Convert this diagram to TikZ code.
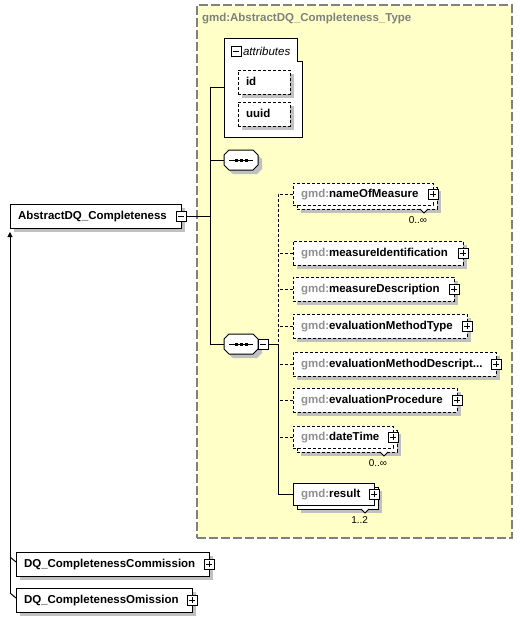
\documentclass[tikz,border=0pt]{standalone}
\usepackage{fontspec}
\setmainfont{Liberation Sans}
\usetikzlibrary{arrows.meta,shadows}
\definecolor{typeyellow}{HTML}{FFFFC8}
\definecolor{typeborder}{HTML}{808080}
\definecolor{shadowgray}{HTML}{C0C0C0}
\definecolor{gmdgray}{HTML}{909090}
\newcommand{\elemfont}{\fontsize{11.5}{13}\selectfont\bfseries}
\newcommand{\attrfont}{\normalfont\fontsize{11.5}{13}\selectfont\itshape}
\newcommand{\occfont}{\normalfont\fontsize{10}{12}\selectfont}
\newcommand{\gmdname}[1]{\mbox{\textcolor{gmdgray}{gmd:}#1}}
\begin{document}
\begin{tikzpicture}[x=1pt,y=-1pt,inner sep=0pt,outer sep=0pt,line width=1pt,font=\elemfont,
typebox/.style={draw=typeborder,fill=typeyellow,line width=1.5pt,dash pattern=on 9pt off 3pt,anchor=north west,minimum width=315pt,minimum height=533pt},
attrbox/.style={rectangle,anchor=north west,minimum width=78pt,minimum height=99pt},
basebox/.style={draw,rectangle,fill=white,anchor=north west,inner xsep=8pt,text width=#1,align=left,minimum height=24pt,text height=8.5pt,text depth=2pt},
elembox/.style={basebox=#1,general shadow={fill=shadowgray,shadow xshift=4pt,shadow yshift=-4pt}},
optbox/.style={elembox=#1,dash pattern=on 3pt off 2pt},
multibox/.style={basebox=#1,minimum height=22pt,general shadow={fill=shadowgray,shadow xshift=8pt,shadow yshift=-8pt},general shadow={draw,fill=white,shadow xshift=4pt,shadow yshift=-4pt}},
optmulti/.style={basebox=#1,minimum height=22pt,dash pattern=on 3pt off 2pt,general shadow={fill=shadowgray,shadow xshift=8pt,shadow yshift=-8pt},general shadow={draw,dash pattern=on 3pt off 2pt,fill=white,shadow xshift=4pt,shadow yshift=-4pt}},
togglebox/.style={draw,rectangle,fill=white,minimum size=10pt,general shadow={fill=black,shadow xshift=1pt,shadow yshift=-1pt}},
plussign/.style={togglebox,path picture={\draw ([xshift=2pt]path picture bounding box.west) -- ([xshift=-2pt]path picture bounding box.east) ([yshift=2pt]path picture bounding box.south) -- ([yshift=-2pt]path picture bounding box.north);}},
minussign/.style={togglebox,path picture={\draw ([xshift=2pt]path picture bounding box.west) -- ([xshift=-2pt]path picture bounding box.east);}},
seqbox/.style={rectangle,minimum width=34pt,minimum height=20pt,anchor=north west},
octagon/.style={draw,fill=white,general shadow={fill=shadowgray,shadow xshift=4pt,shadow yshift=-4pt}},
optline/.style={dash pattern=on 3pt off 2pt}]
\useasboundingbox (0,0) rectangle (523,622);
\draw (197,5) node[typebox] (type) {};
\draw (202,19) node[anchor=west,text=typeborder] (typetitle) {gmd:AbstractDQ\_Completeness\_Type};
\draw (224,38) node[attrbox] (attr) {};
\draw[fill=white] (attr.north west) -- ([xshift=-5pt]attr.north east) -- ([xshift=-5pt,yshift=-23pt]attr.north east) -- ([yshift=-23pt]attr.north east) -- (attr.south east) -- (attr.south west) -- cycle;
\draw (231,46) node[minussign,anchor=north west] (attrminus) {};
\draw (attrminus.east) node[anchor=west,xshift=2pt,font=\attrfont] (attrtitle) {attributes};
\draw (238,70) node[optbox=36pt] (id) {id};
\draw (238,102) node[optbox=36pt] (uuid) {uuid};
\draw (224,150) node[seqbox] (seq1) {};
\draw (224,334) node[seqbox] (seq2) {};
\foreach \s in {seq1,seq2} {
  \draw[octagon] ([xshift=5pt]\s.north west) -- ([xshift=-5pt]\s.north east) -- ([yshift=-5pt]\s.north east) -- ([yshift=5pt]\s.south east) -- ([xshift=-5pt]\s.south east) -- ([xshift=5pt]\s.south west) -- ([yshift=5pt]\s.south west) -- ([yshift=-5pt]\s.north west) -- cycle;
  \draw ([xshift=5pt]\s.west) -- ([xshift=-5pt]\s.east);
  \foreach \dx in {-5,0,5}
    \fill ([xshift=\dx pt]\s.center) +(-1.5pt,-1.5pt) rectangle +(1.5pt,1.5pt);
}
\draw (seq2.east) node[minussign,anchor=west] (seqminus) {};
\draw (10,204) node[elembox=155pt] (abs) {AbstractDQ\_Completeness};
\draw (abs.east) node[minussign] (absminus) {};
\draw (293,183) node[optmulti=124pt] (nom) {\gmdname{nameOfMeasure}};
\draw (293,241) node[optbox=154pt] (mid) {\gmdname{measureIdentification}};
\draw (293,277) node[optbox=145pt] (mdesc) {\gmdname{measureDescription}};
\draw (293,314) node[optbox=158pt] (emt) {\gmdname{evaluationMethodType}};
\draw (293,352) node[optbox=187pt] (emd) {\gmdname{evaluationMethodDescript...}};
\draw (293,388) node[optbox=148pt] (ep) {\gmdname{evaluationProcedure}};
\draw (293,426) node[optmulti=84pt] (dt) {\gmdname{dateTime}};
\draw (293,483) node[multibox=65pt] (res) {\gmdname{result}};
\foreach \e in {nom,dt,res}
  \draw[fill=white] ([xshift=-13pt,yshift=-4pt]\e.south east) -- ++(4,4) -- ++(4,-4);
\foreach \e in {nom,mid,mdesc,emt,emd,ep,dt,res}
  \draw (\e.east) node[plussign] (\e-plus) {};
\draw ([xshift=-6pt,yshift=-15pt]nom.south east) node[anchor=east,font=\occfont] (nomocc) {0..∞};
\draw ([xshift=-6pt,yshift=-15pt]dt.south east) node[anchor=east,font=\occfont] (dtocc) {0..∞};
\draw ([xshift=-6pt,yshift=-15pt]res.south east) node[anchor=east,font=\occfont] (resocc) {1..2};
\coordinate (sp1) at (210,216);
\coordinate (sp2) at (278,344);
\draw (absminus.east) -- (sp1);
\draw (attr.west) -| (sp1 |- seq2.west) -- (seq2.west);
\draw (seq1.west) -- (sp1 |- seq1.west);
\draw (seqminus.east) -- (sp2) |- (res.west);
\draw[optline] (nom.west) -| (sp2);
\foreach \e in {mid,mdesc,emt,emd,ep,dt}
  \draw[optline] (\e.west) -- (sp2 |- \e.west);
\draw (16,552) node[elembox=177pt] (com) {DQ\_CompletenessCommission};
\draw (com.east) node[plussign] (complus) {};
\draw (16,588) node[elembox=160pt] (omi) {DQ\_CompletenessOmission};
\draw (omi.east) node[plussign] (omiplus) {};
\draw[-{Triangle[width=5pt,length=5pt]}] ([xshift=-6pt,yshift=-5pt]omi.north west) -- ([yshift=-4pt]abs.south west);
\draw ([xshift=-6pt,yshift=-5pt]omi.north west) -- ([yshift=-10pt]omi.north west);
\draw ([xshift=-6pt,yshift=-5pt]com.north west) -- ([yshift=-10pt]com.north west);
\end{tikzpicture}
\end{document}
